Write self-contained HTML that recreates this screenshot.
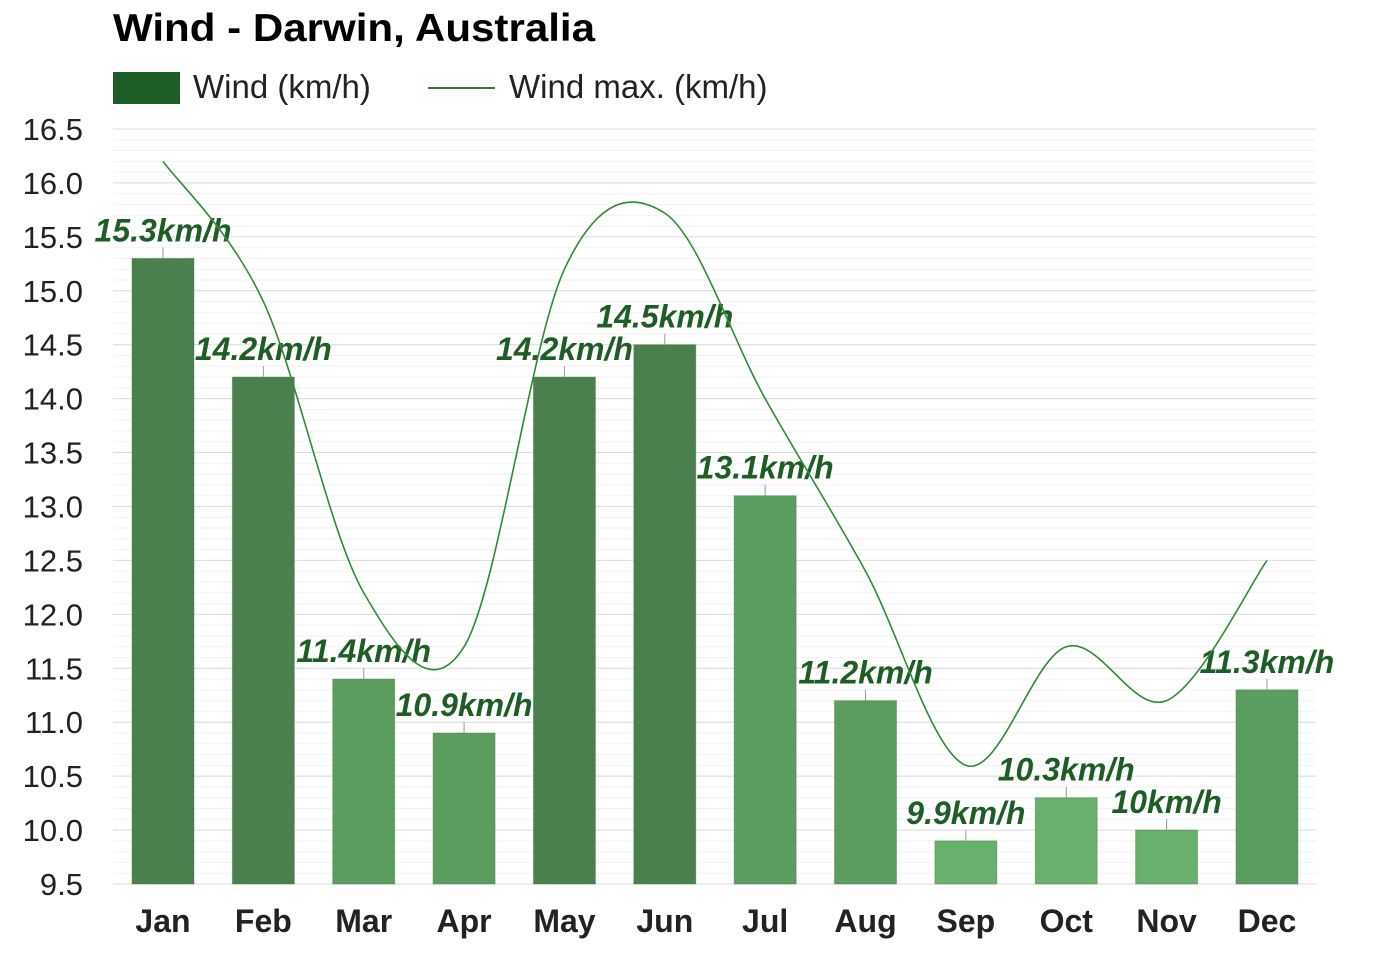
<!DOCTYPE html>
<html><head><meta charset="utf-8"><style>
body{margin:0;background:#fff;}
svg text{font-family:"Liberation Sans",Arial,sans-serif;}
</style></head><body>
<svg id="chart" width="1374" height="974" xmlns="http://www.w3.org/2000/svg">
<text x="113" y="41" font-size="39" font-weight="bold" fill="#000" textLength="482" lengthAdjust="spacingAndGlyphs">Wind - Darwin, Australia</text>
<g>
<rect x="113" y="72" width="67" height="32" fill="#1e5e26"/>
<text x="193" y="98" font-size="33" fill="#222">Wind (km/h)</text>
<line x1="428" y1="88" x2="495" y2="88" stroke="#2e7d32" stroke-width="2"/>
<text x="509" y="98" font-size="33" fill="#222">Wind max. (km/h)</text>
</g>
<g id="grid"></g><g id="bars"></g><g id="labels"></g><g id="line"></g><g id="axes"></g>
</svg>
<script>
const months=["Jan","Feb","Mar","Apr","May","Jun","Jul","Aug","Sep","Oct","Nov","Dec"];
const wind=[15.3,14.2,11.4,10.9,14.2,14.5,13.1,11.2,9.9,10.3,10,11.3];
const windLabels=["15.3km/h","14.2km/h","11.4km/h","10.9km/h","14.2km/h","14.5km/h","13.1km/h","11.2km/h","9.9km/h","10.3km/h","10km/h","11.3km/h"];
const windMax=[16.2,14.9,12.2,11.7,15.2,15.72,14.0,12.4,10.6,11.7,11.2,12.5];
const yTicks=[9.5,10,10.5,11,11.5,12,12.5,13,13.5,14,14.5,15,15.5,16,16.5];
const NS="http://www.w3.org/2000/svg";
const y=v=>884-(v-9.5)*107.86;
const x=i=>163+i*100.36;
function mk(t,a,p){const e=document.createElementNS(NS,t);for(const k in a)e.setAttribute(k,a[k]);p.appendChild(e);return e;}
const G=document.getElementById('grid'),B=document.getElementById('bars'),L=document.getElementById('labels'),LN=document.getElementById('line'),A=document.getElementById('axes');
for(let v=9.5;v<=16.5001;v+=0.1){const e=mk('line',{x1:113,x2:1316,y1:y(v),y2:y(v),stroke:'#f2f2f2','stroke-width':1},G);

}
yTicks.forEach(v=>{const e=mk('line',{x1:113,x2:1316,y1:y(v),y2:y(v),stroke:'#dcdcdc','stroke-width':1},G);


const t=mk('text',{x:83,y:y(v)+11,'font-size':31,'text-anchor':'end',fill:'#222'},A);t.textContent=v.toFixed(1);

});
wind.forEach((v,i)=>{const c=v>=14?'#4a7f4e':(v>=10.5?'#5b9c5f':'#68b06c');
const r=mk('rect',{x:x(i)-31,y:y(v),width:62,height:884-y(v),fill:c,stroke:'#3f7a44','stroke-opacity':0.4},B);


const tk=mk('line',{x1:x(i),x2:x(i),y1:y(v),y2:y(v)-11,stroke:'#999'},L);


const t=mk('text',{x:x(i),y:y(v)-17,'font-size':32,'font-weight':'bold','font-style':'italic','text-anchor':'middle',fill:'#1e5e26'},L);t.textContent=windLabels[i];


const m=mk('text',{x:x(i),y:932,'font-size':32,'font-weight':'bold','text-anchor':'middle',fill:'#222'},A);m.textContent=months[i];

});
const pts=windMax.map((v,i)=>[x(i),y(v)]);
let d='M'+pts[0][0]+','+pts[0][1];
for(let i=0;i<pts.length-1;i++){const p0=pts[Math.max(0,i-1)],p1=pts[i],p2=pts[i+1],p3=pts[Math.min(pts.length-1,i+2)];
const c1=[p1[0]+(p2[0]-p0[0])/6,p1[1]+(p2[1]-p0[1])/6],c2=[p2[0]-(p3[0]-p1[0])/6,p2[1]-(p3[1]-p1[1])/6];
d+=' C'+c1+' '+c2+' '+p2;}
const pl=mk('path',{d:d,fill:'none',stroke:'#2e8b36','stroke-width':1.6},LN);


</script>
</body></html>
